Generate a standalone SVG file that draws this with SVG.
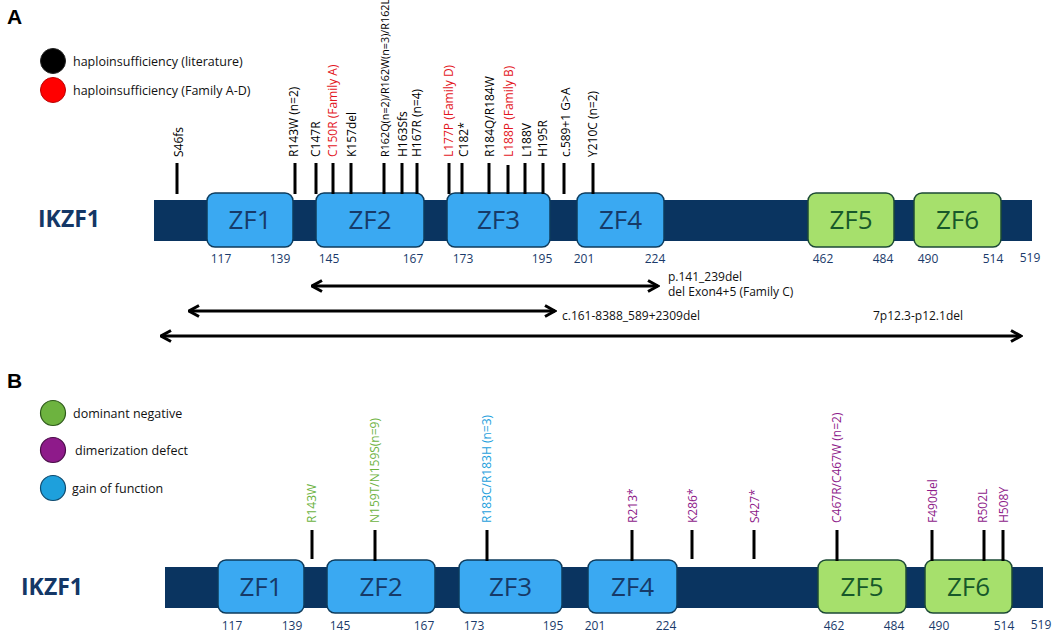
<svg xmlns="http://www.w3.org/2000/svg" width="1056" height="633" viewBox="0 0 1056 633">
<style>
text{font-family:"Open Sans","Noto Sans","Liberation Sans",sans-serif;}
.panel{font-size:21px;font-weight:bold;fill:#000;font-family:"Liberation Sans",Arial,sans-serif;}
.leg{font-size:12.5px;fill:#111;}
.gene{font-size:23px;font-weight:bold;fill:#143766;}
.bar{fill:#0a3460;}
.zfb{fill:#3aa9f2;stroke:#0e3b5c;stroke-width:1.5;}
.zfg{fill:#a6e06c;stroke:#1c4a36;stroke-width:1.5;}
.zt{font-size:26px;text-anchor:middle;fill:#163a68;}
.ztg{font-size:26px;text-anchor:middle;fill:#17582a;}
.num{font-size:12px;fill:#1a3a6a;text-anchor:middle;}
.tick{stroke:#000;stroke-width:3;}
.lab{font-size:12px;fill:#000;}
.red{fill:#e3161e;}
.dn{fill:#6db33f;}
.dd{fill:#8e1a8a;}
.gf{fill:#1ea0dc;}
.arr{stroke:#000;stroke-width:3;fill:none;marker-start:url(#ah);marker-end:url(#ah);}
.note{font-size:12px;fill:#111;}
</style>
<defs>
<marker id="ah" viewBox="0 0 13 14" refX="11.5" refY="7" markerWidth="13" markerHeight="14" markerUnits="userSpaceOnUse" orient="auto-start-reverse">
<path d="M1.5,1.5 L11.5,7 L1.5,12.5" fill="none" stroke="#000" stroke-width="3" stroke-linejoin="miter"/>
</marker>
</defs>
<rect width="1056" height="633" fill="#fff"/>

<!-- Panel A -->
<g id="panelA-title"><text class="panel" x="7" y="24">A</text></g>
<g id="legendA">
<circle cx="53" cy="61" r="12.5" fill="#000" stroke="#222" stroke-width="1"/>
<text class="leg" x="73" y="65.5">haploinsufficiency (literature)</text>
<circle cx="53" cy="90" r="12.5" fill="#f00" stroke="#b00" stroke-width="1"/>
<text class="leg" x="73" y="94.5">haploinsufficiency (Family A-D)</text>
</g>
<g id="geneA">
<text class="gene" x="38" y="227">IKZF1</text>
<rect class="bar" x="154" y="200" width="878" height="41"/>
</g>
<g id="A-ZF1"><rect class="zfb" x="207" y="193" width="86" height="54" rx="8"/><text class="zt" x="250" y="229">ZF1</text></g>
<g id="A-ZF2"><rect class="zfb" x="316" y="193" width="108" height="54" rx="8"/><text class="zt" x="370" y="229">ZF2</text></g>
<g id="A-ZF3"><rect class="zfb" x="447" y="193" width="103" height="54" rx="8"/><text class="zt" x="498.5" y="229">ZF3</text></g>
<g id="A-ZF4"><rect class="zfb" x="577" y="193" width="87" height="54" rx="8"/><text class="zt" x="620.5" y="229">ZF4</text></g>
<g id="A-ZF5"><rect class="zfg" x="808" y="193" width="86" height="54" rx="8"/><text class="ztg" x="851" y="229">ZF5</text></g>
<g id="A-ZF6"><rect class="zfg" x="914" y="193" width="87" height="54" rx="8"/><text class="ztg" x="957.5" y="229">ZF6</text></g>
<g id="A-numbers">
<text class="num" x="221" y="263">117</text>
<text class="num" x="280" y="263">139</text>
<text class="num" x="329" y="263">145</text>
<text class="num" x="413" y="263">167</text>
<text class="num" x="463" y="263">173</text>
<text class="num" x="542" y="263">195</text>
<text class="num" x="584" y="263">201</text>
<text class="num" x="655" y="263">224</text>
<text class="num" x="823" y="263">462</text>
<text class="num" x="883" y="263">484</text>
<text class="num" x="928" y="263">490</text>
<text class="num" x="993" y="263">514</text>
<text class="num" x="1030" y="262">519</text>
</g>
<g id="A-ticks">
<line class="tick" x1="177" y1="163" x2="177" y2="194"/>
<line class="tick" x1="295" y1="163" x2="295" y2="194"/>
<line class="tick" x1="316" y1="163" x2="316" y2="194"/>
<line class="tick" x1="333" y1="163" x2="333" y2="194"/>
<line class="tick" x1="351" y1="163" x2="351" y2="194"/>
<line class="tick" x1="384" y1="163" x2="384" y2="194"/>
<line class="tick" x1="402" y1="163" x2="402" y2="194"/>
<line class="tick" x1="417" y1="163" x2="417" y2="194"/>
<line class="tick" x1="449" y1="163" x2="449" y2="194"/>
<line class="tick" x1="462" y1="163" x2="462" y2="194"/>
<line class="tick" x1="489" y1="163" x2="489" y2="194"/>
<line class="tick" x1="508" y1="165" x2="508" y2="194"/>
<line class="tick" x1="525" y1="163" x2="525" y2="194"/>
<line class="tick" x1="543" y1="163" x2="543" y2="194"/>
<line class="tick" x1="564" y1="163" x2="564" y2="194"/>
<line class="tick" x1="593" y1="163" x2="593" y2="194"/>
</g>
<g id="A-labels">
<text class="lab" transform="translate(179,157) rotate(-90)" y="4.3">S46fs</text>
<text class="lab" transform="translate(294,157) rotate(-90)" y="4.3">R143W (n=2)</text>
<text class="lab" transform="translate(316,157) rotate(-90)" y="4.3">C147R</text>
<text class="lab red" transform="translate(333,157) rotate(-90)" y="4.3">C150R (Family A)</text>
<text class="lab" transform="translate(352,157) rotate(-90)" y="4.3">K157del</text>
<text class="lab" transform="translate(385,157) rotate(-90)" y="4" style="font-size:10.8px">R162Q(n=2)/R162W(n=3)/R162L</text>
<text class="lab" transform="translate(403,157) rotate(-90)" y="4.3">H163Sfs</text>
<text class="lab" transform="translate(417,157) rotate(-90)" y="4.3">H167R (n=4)</text>
<text class="lab red" transform="translate(449,157) rotate(-90)" y="4.3">L177P (Family D)</text>
<text class="lab" transform="translate(464,157) rotate(-90)" y="4.3">C182*</text>
<text class="lab" transform="translate(490,157) rotate(-90)" y="4.3">R184Q/R184W</text>
<text class="lab red" transform="translate(509,157) rotate(-90)" y="4.3">L188P (Family B)</text>
<text class="lab" transform="translate(527,157) rotate(-90)" y="4.3">L188V</text>
<text class="lab" transform="translate(543,157) rotate(-90)" y="4.3">H195R</text>
<text class="lab" transform="translate(566,157) rotate(-90)" y="4.3">c.589+1 G&gt;A</text>
<text class="lab" transform="translate(593,157) rotate(-90)" y="4.3">Y210C (n=2)</text>
</g>
<g id="connectors">
<line class="arr" x1="312" y1="286" x2="658" y2="286"/>
<line class="arr" x1="189" y1="311" x2="555" y2="311"/>
<line class="arr" x1="161" y1="336" x2="1021" y2="336"/>
</g>
<g id="A-deletions">
<text class="note red" x="668" y="281">p.141_239del</text>
<text class="note red" x="668" y="296">del Exon4+5 (Family C)</text>
<text class="note" x="562" y="320">c.161-8388_589+2309del</text>
<text class="note" x="873" y="320">7p12.3-p12.1del</text>
</g>

<!-- Panel B -->
<g id="panelB-title"><text class="panel" x="7" y="388">B</text></g>
<g id="legendB">
<circle cx="53" cy="413" r="12.5" fill="#6db33f" stroke="#2e5a1a" stroke-width="1.2"/>
<text class="leg" x="73" y="417.5">dominant negative</text>
<circle cx="53" cy="450" r="12.5" fill="#8e1a8a" stroke="#4a0c48" stroke-width="1.2"/>
<text class="leg" x="75" y="454.5">dimerization defect</text>
<circle cx="53" cy="488" r="12.5" fill="#1ea0dc" stroke="#0e4a6e" stroke-width="1.2"/>
<text class="leg" x="72" y="492.5">gain of function</text>
</g>
<g id="geneB">
<text class="gene" x="21" y="595">IKZF1</text>
<rect class="bar" x="165" y="567" width="878" height="41"/>
</g>
<g id="B-ZF1"><rect class="zfb" x="218" y="560" width="86" height="53" rx="8"/><text class="zt" x="261" y="596">ZF1</text></g>
<g id="B-ZF2"><rect class="zfb" x="327" y="560" width="108" height="53" rx="8"/><text class="zt" x="381" y="596">ZF2</text></g>
<g id="B-ZF3"><rect class="zfb" x="459" y="560" width="103" height="53" rx="8"/><text class="zt" x="510.5" y="596">ZF3</text></g>
<g id="B-ZF4"><rect class="zfb" x="588" y="560" width="89" height="53" rx="8"/><text class="zt" x="632.5" y="596">ZF4</text></g>
<g id="B-ZF5"><rect class="zfg" x="818" y="560" width="88" height="53" rx="8"/><text class="ztg" x="862" y="596">ZF5</text></g>
<g id="B-ZF6"><rect class="zfg" x="925" y="560" width="87" height="53" rx="8"/><text class="ztg" x="968.5" y="596">ZF6</text></g>
<g id="B-numbers">
<text class="num" x="232" y="630">117</text>
<text class="num" x="292" y="630">139</text>
<text class="num" x="340" y="630">145</text>
<text class="num" x="424" y="630">167</text>
<text class="num" x="474" y="630">173</text>
<text class="num" x="553" y="630">195</text>
<text class="num" x="595" y="630">201</text>
<text class="num" x="666" y="630">224</text>
<text class="num" x="834" y="630">462</text>
<text class="num" x="894" y="630">484</text>
<text class="num" x="939" y="630">490</text>
<text class="num" x="1004" y="630">514</text>
<text class="num" x="1041" y="629">519</text>
</g>
<g id="B-ticks">
<line class="tick" x1="312" y1="530" x2="312" y2="559"/>
<line class="tick" x1="375" y1="530" x2="375" y2="561"/>
<line class="tick" x1="487" y1="530" x2="487" y2="561"/>
<line class="tick" x1="632" y1="530" x2="632" y2="561"/>
<line class="tick" x1="692" y1="530" x2="692" y2="559"/>
<line class="tick" x1="754" y1="530" x2="754" y2="559"/>
<line class="tick" x1="837" y1="530" x2="837" y2="561"/>
<line class="tick" x1="932" y1="530" x2="932" y2="561"/>
<line class="tick" x1="984" y1="530" x2="984" y2="561"/>
<line class="tick" x1="1003" y1="530" x2="1003" y2="561"/>
</g>
<g id="B-labels">
<text class="lab dn" transform="translate(312,523) rotate(-90)" y="4.3">R143W</text>
<text class="lab dn" transform="translate(375,523) rotate(-90)" y="4.3">N159T/N159S(n=9)</text>
<text class="lab gf" transform="translate(487,523) rotate(-90)" y="4.3">R183C/R183H (n=3)</text>
<text class="lab dd" transform="translate(633,523) rotate(-90)" y="4.3">R213*</text>
<text class="lab dd" transform="translate(693,523) rotate(-90)" y="4.3">K286*</text>
<text class="lab dd" transform="translate(755,523) rotate(-90)" y="4.3">S427*</text>
<text class="lab dd" transform="translate(837,523) rotate(-90)" y="4.3">C467R/C467W (n=2)</text>
<text class="lab dd" transform="translate(933,523) rotate(-90)" y="4.3">F490del</text>
<text class="lab dd" transform="translate(983,523) rotate(-90)" y="4.3">R502L</text>
<text class="lab dd" transform="translate(1004,523) rotate(-90)" y="4.3">H508Y</text>
</g>
</svg>
